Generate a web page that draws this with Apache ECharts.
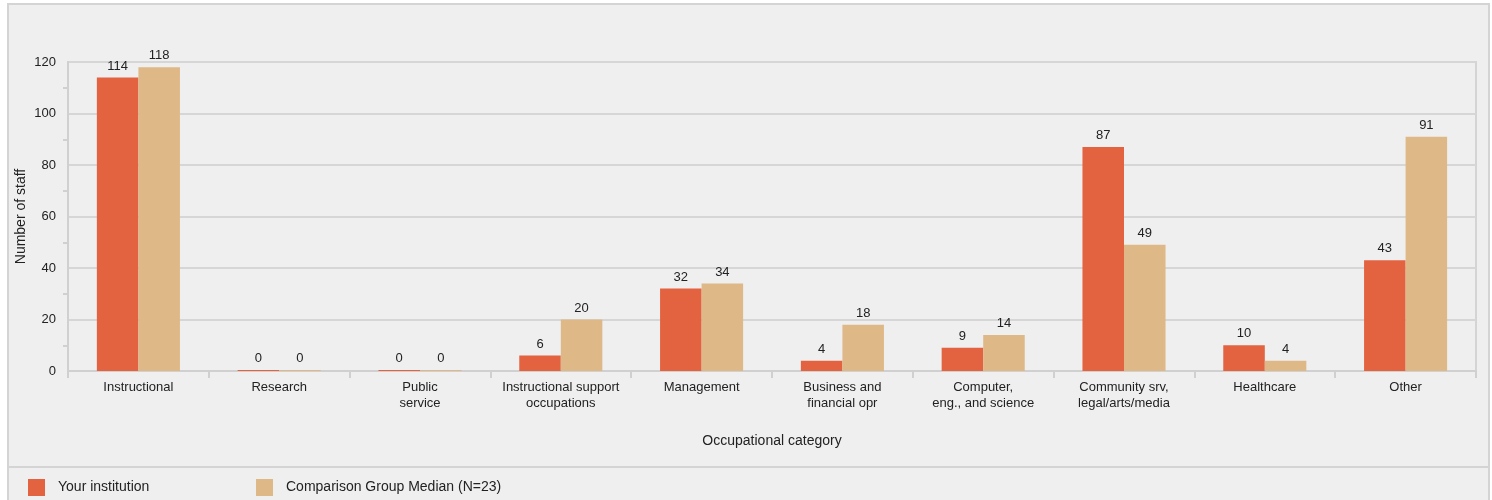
<!DOCTYPE html>
<html><head><meta charset="utf-8">
<script src="https://cdn.jsdelivr.net/npm/echarts@6/dist/echarts.min.js"></script>
<style>html,body{margin:0;padding:0;background:#fff;}#c{width:1492px;height:500px;}</style>
</head><body><div id="c"></div>
<script>
const categories = ['Instructional','Research','Public\nservice','Instructional support\noccupations','Management','Business and\nfinancial opr','Computer,\neng., and science','Community srv,\nlegal/arts/media','Healthcare','Other'];
const yourInstitution = [114,0,0,6,32,4,9,87,10,43];
const comparisonMedian = [118,0,0,20,34,18,14,49,4,91];
const seriesNames = ['Your institution','Comparison Group Median (N=23)'];
const yTicks = {min:0,max:120,interval:20};

const chart = echarts.init(document.getElementById('c'));
const font = 'Liberation Sans, Arial, sans-serif';
const lbl = {show:true,position:'top',distance:5,color:'#222',fontSize:13,fontFamily:font};
chart.setOption({
  animation:false,
  textStyle:{fontFamily:font},
  graphic:[
    {type:'rect',shape:{x:8,y:4,width:1481,height:510},style:{fill:'#efefef',stroke:'#d4d4d4',lineWidth:2},z:-10,silent:true},
    {type:'line',shape:{x1:8,y1:467,x2:1489,y2:467},style:{stroke:'#d4d4d4',lineWidth:2},z:-9,silent:true}
  ],
  legend:[
    {data:[seriesNames[0]],left:23,top:474,itemWidth:17,itemHeight:17,icon:'rect',itemGap:0,textStyle:{fontSize:14,color:'#222',padding:[0,0,0,8],fontFamily:font}},
    {data:[seriesNames[1]],left:251,top:474,itemWidth:17,itemHeight:17,icon:'rect',itemGap:0,textStyle:{fontSize:14,color:'#222',padding:[0,0,0,8],fontFamily:font}}
  ],
  grid:{left:68,right:16,top:62,bottom:129,containLabel:false,show:true,borderColor:'#d4d4d4',borderWidth:2},
  xAxis:{type:'category',data:categories,
    name:'Occupational category',nameLocation:'middle',nameGap:63,nameMoveOverlap:false,
    nameTextStyle:{fontSize:14,color:'#222',fontFamily:font},
    axisLine:{lineStyle:{color:'#d0d0d0',width:2}},
    axisTick:{show:true,length:7,lineStyle:{color:'#d0d0d0',width:2}},
    axisLabel:{color:'#222',fontSize:13,margin:8,lineHeight:16,interval:0,fontFamily:font}},
  yAxis:{type:'value',min:yTicks.min,max:yTicks.max,interval:yTicks.interval,
    name:'Number of staff',nameLocation:'middle',nameGap:40,nameRotate:90,nameMoveOverlap:false,
    nameTextStyle:{fontSize:14,color:'#222',fontFamily:font},
    axisLine:{show:true,lineStyle:{color:'#d0d0d0',width:2}},
    axisTick:{show:false},
    minorTick:{show:true,splitNumber:2,length:5,lineStyle:{color:'#d0d0d0',width:2}},
    splitLine:{show:true,lineStyle:{color:'#d6d6d6',width:2}},
    axisLabel:{color:'#222',fontSize:13,margin:12,fontFamily:font}},
  series:[
    {name:seriesNames[0],type:'bar',data:yourInstitution,barGap:'0%',barCategoryGap:'41%',barMinHeight:1,
      itemStyle:{color:'#e36240'},label:lbl},
    {name:seriesNames[1],type:'bar',data:comparisonMedian,barGap:'0%',barCategoryGap:'41%',barMinHeight:1,
      itemStyle:{color:'#deb887'},label:lbl}
  ]
});
</script></body></html>
